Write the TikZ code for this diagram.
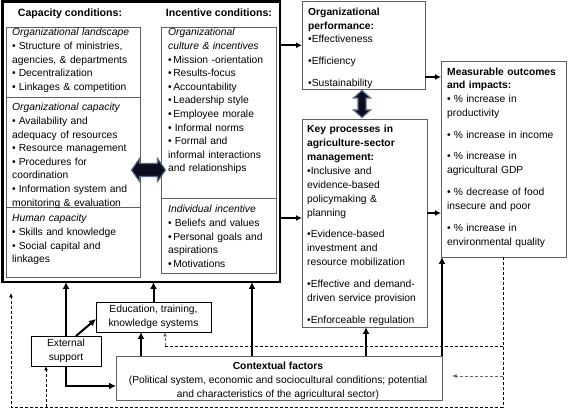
\documentclass[tikz,border=0pt]{standalone}
\usepackage{fontspec}
\setmainfont{Liberation Sans}
\usetikzlibrary{arrows.meta,calc}
\definecolor{bord}{gray}{0.38}
\definecolor{navy}{RGB}{10,14,30}
\definecolor{navyedge}{RGB}{90,105,135}
\newcommand{\fsA}{\fontsize{10.3}{13.6}\selectfont}
\newcommand{\fsB}{\fontsize{10.3}{14}\selectfont}
\newcommand{\fsC}{\fontsize{10.3}{13.5}\selectfont}
\newcommand{\fsH}{\fontsize{10.6}{13}\selectfont\bfseries}
\newcommand{\bul}{\textbullet\hspace{3pt}}
\newcommand{\bulc}{\textbullet}
\begin{document}
\begin{tikzpicture}[x=1pt,y=-1pt,
  box/.style={draw=bord,line width=0.9pt,inner sep=0pt,outer sep=0pt,anchor=north west},
  txtA/.style={anchor=base west,inner sep=0pt,text width=#1,align=left,font=\fsA},
  txtA/.default=130pt,
  txtB/.style={anchor=base west,inner sep=0pt,text width=#1,align=left,font=\fsB},
  txtB/.default=118pt,
  hdr/.style={anchor=base,inner sep=0pt,font=\fsH},
  bigarrow/.style={line width=2pt,-{Latex[length=7pt,width=7pt]}},
  midarrow/.style={line width=1.5pt,-{Latex[length=6pt,width=6pt]}},
  dline/.style={line width=0.8pt,dash pattern=on 3pt off 2pt},
  darrow/.style={dline,-{Latex[length=4.5pt,width=4pt]}},
  blockarrow/.style={fill=navy,draw=navyedge,line width=1.1pt,line join=miter}
]
\useasboundingbox (0,0) rectangle (568,411);

% outer thick frame
\node[box,draw=black,line width=2.6pt,minimum width=277.5pt,minimum height=280.5pt] (outer) at (2.3,1.5) {};

% headers
\node[hdr] (caph) at (70,17) {Capacity conditions:};
\node[hdr] (inch) at (219,17) {Incentive conditions:};

% capacity column
\node[box,minimum width=134pt,minimum height=70pt] (land) at (6,27) {};
\node[box,minimum width=134pt,minimum height=110pt] (ocap) at (6,97) {};
\node[box,minimum width=134pt,minimum height=70pt] (hcap) at (6,207) {};

\node[txtA] (landt) at (12,36) {\textit{Organizational landscape}\\
 \bul Structure of ministries,\\ agencies, \& departments\\ \bul Decentralization\\ \bul Linkages \& competition};
\node[txtA] (ocapt) at (12,111) {\textit{Organizational capacity}\\
 \bul Availability and\\ adequacy of resources\\ \bul Resource management\\ \bul Procedures for\\ coordination\\
 \bul Information system and\\ monitoring \& evaluation};
\node[txtA] (hcapt) at (12,222) {\textit{Human capacity}\\
 \bul Skills and knowledge\\ \bul Social capital and\\ linkages};

% incentive column
\node[box,minimum width=115pt,minimum height=171pt] (ocul) at (161,27) {};
\node[box,minimum width=115pt,minimum height=75pt] (iinc) at (161,198) {};

\node[txtA=110pt] (ocult) at (168,36) {\textit{Organizational}\\ \textit{culture \& incentives}\\
 \bulc\hspace{1.5pt}Mission -orientation\\ \bulc\hspace{1.5pt}Results-focus\\ \bulc\hspace{1.5pt}Accountability\\
 \bulc\hspace{1.5pt}Leadership style\\ \bulc\hspace{1.5pt}Employee morale\\ \bul Informal norms\\
 \bul Formal and\\ informal interactions\\ and relationships};
\node[txtA=110pt] (iinct) at (168,213) {\textit{Individual incentive}\\
 \bul Beliefs and values\\ \bulc\hspace{1.5pt}Personal goals and\\ aspirations\\ \bulc\hspace{1.5pt}Motivations};

% block double arrow horizontal
\coordinate (dah) at (148.5,170);
\draw[blockarrow] ($(dah)+(-17,0)$) -- ++(8,-11.5) -- ++(0,5) -- ++(18,0) -- ++(0,-5)
  -- ++(8,11.5) -- ++(-8,11.5) -- ++(0,-5) -- ++(-18,0) -- ++(0,5) -- cycle;

% organizational performance
\node[box,minimum width=123pt,minimum height=87.5pt] (perf) at (302,1.5) {};
\node[txtB] (perft) at (308,16) {\textbf{Organizational}\\ \textbf{performance:}\\[-1pt]
 \bulc Effectiveness\\[8pt] \bulc Efficiency\\[8pt] \bulc Sustainability};

% block double arrow vertical
\coordinate (dav) at (362,104);
\draw[blockarrow] ($(dav)+(0,-13.5)$) -- ++(8.5,7.5) -- ++(-4.5,0) -- ++(0,12) -- ++(4.5,0)
  -- ++(-8.5,7.5) -- ++(-8.5,-7.5) -- ++(4.5,0) -- ++(0,-12) -- ++(-4.5,0) -- cycle;

% key processes
\node[box,minimum width=125pt,minimum height=208pt] (key) at (302,119) {};
\node[txtB] (keyt) at (307,133) {\textbf{Key processes in}\\ \textbf{agriculture-sector}\\ \textbf{management:}\\
 \bulc Inclusive and\\ evidence-based\\ policymaking \&\\ planning\\[7pt]
 \bulc Evidence-based\\ investment and\\ resource mobilization\\[8pt]
 \bulc Effective and demand-\\ driven service provision\\[8pt]
 \bulc Enforceable regulation};

% measurable outcomes
\node[box,minimum width=125pt,minimum height=196pt] (meas) at (441,61) {};
\node[txtB] (meast) at (447,76) {\textbf{Measurable outcomes}\\[-1.5pt] \textbf{and impacts:}\\
 \bul\% increase in\\ productivity\\[8pt] \bul\% increase in income\\[7pt]
 \bul\% increase in\\ agricultural GDP\\[8pt] \bul\% decrease of food\\ insecure and poor\\[8pt]
 \bul\% increase in\\ environmental quality};

% lower boxes
\node[box,draw=black,minimum width=115pt,minimum height=30pt,align=center,font=\fsC] (edu) at (96,302)
 {Education, training,\\ knowledge systems};
\node[box,draw=black,minimum width=70pt,minimum height=30pt,align=center,font=\fsB] (ext) at (31,336)
 {External\\ support};
\node[box,minimum width=326pt,minimum height=44pt] (ctx) at (116,356) {};
\node[anchor=center,inner sep=0pt,align=center,font=\fsB] (ctxt) at (278,381)
 {\textbf{Contextual factors}\\ (Political system, economic and sociocultural conditions; potential\\
  and characteristics of the agricultural sector)};

% arrows from the frame
\draw[midarrow] (outer.east |- perf.west) -- (perf.west);
\coordinate (okey) at (280,218);
\draw[midarrow] (okey) -- (okey -| key.west);
\coordinate (pm) at (425,77);
\draw[midarrow] (pm) -- (pm -| meas.west);
\coordinate (km) at (427,213);
\draw[midarrow] (km) -- (km -| meas.west);

% upward arrows
\draw[bigarrow] (ext.north) -- (ext.north |- outer.south);
\draw[bigarrow] (edu.north) -- (edu.north |- outer.south);
\coordinate (c3) at (252,356);
\draw[bigarrow] (c3) -- (c3 |- outer.south);
\coordinate (c4) at (141,356);
\draw[bigarrow] (c4) -- (c4 |- edu.south);
\coordinate (c5) at (366,356);
\draw[bigarrow] (c5) -- (c5 |- key.south);
\draw[bigarrow] (ctx.north east) -- (ctx.north east |- meas.south);
\coordinate (es1) at (76,336);
\coordinate (es2) at (96,319);
\draw[bigarrow] (es1) -- (es2);
\coordinate (ctxin) at (116,386);
\draw[bigarrow] (ext.south) |- (ctxin);

% dashed feedback lines
\coordinate (dtopr) at (503,257);
\coordinate (dr) at (503,407);
\coordinate (dl) at (11,407);
\coordinate (dtop) at (11,293);
\draw[darrow] (dtopr) -- (dr) -- (dl) -- (dtop);
\coordinate (db) at (46,407);
\draw[darrow] (db) -- (db |- ext.south);
\coordinate (dm) at (503,346);
\coordinate (de) at (165,346);
\draw[dline] (dm) -- (de);
\draw[darrow,draw=gray!80!black] (de) -- (de |- edu.south);
\coordinate (dg) at (503,376);
\coordinate (dg2) at (452,376);
\draw[darrow,draw=gray!80!black] (dg) -- (dg2);
\end{tikzpicture}
\end{document}
